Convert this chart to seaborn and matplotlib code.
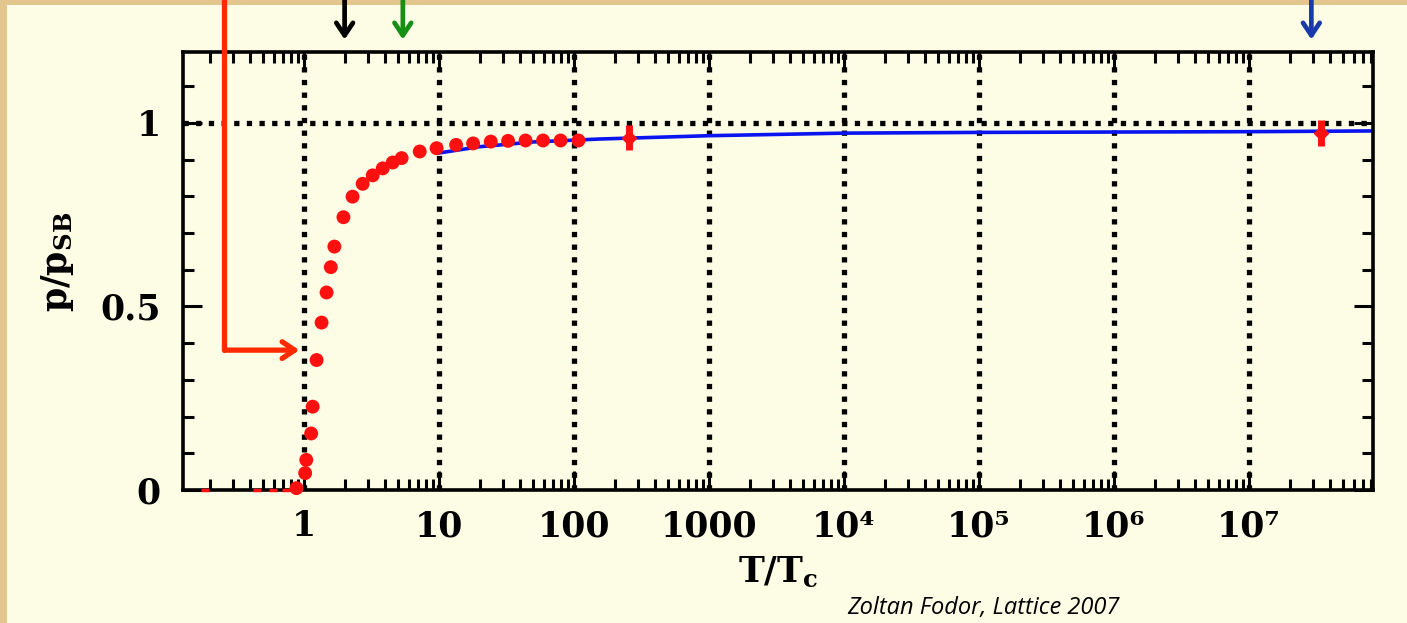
import matplotlib
matplotlib.use("Agg")
import matplotlib.pyplot as plt
import matplotlib.ticker as mticker
from matplotlib.patches import Rectangle
import numpy as np
import pandas as pd
import seaborn as sns

########################################
# Data

# lattice points p/p_SB versus T/T_c
lat_T = [0.88, 1.02, 1.04, 1.13, 1.16, 1.24, 1.35, 1.47,
         1.58, 1.68, 1.96, 2.29, 2.72, 3.23, 3.83, 4.54, 5.29, 7.2, 9.6, 13.4,
         17.9, 24.2, 32.5, 43.8, 59.0, 79.6, 108.0]
lat_p = [0.005, 0.046, 0.082, 0.154, 0.227, 0.354, 0.456, 0.538,
         0.607, 0.663, 0.743, 0.799, 0.834, 0.857, 0.876, 0.892, 0.904, 0.922, 0.931,
         0.940, 0.944, 0.949, 0.951, 0.952, 0.952, 0.952, 0.952]

# low temperature points (tiny marks on the axis)
low_T = [0.185, 0.45, 0.59, 0.74]
low_p = [0.0, 0.0, 0.0, 0.0]

# points with error bars
err_T = [256.0, 3.4e7]
err_p = [0.960, 0.972]
err_dp = [0.034, 0.036]

# perturbative curve
pert_T = [10, 20, 50, 155, 1000, 1e4, 1e5, 1e6, 1e7, 8.3e7]
pert_p = [0.918, 0.935, 0.948, 0.956, 0.965, 0.972, 0.974, 0.975, 0.976, 0.978]

# decade tick labels
dec_ticks = [1, 10, 100, 1000, 1e4, 1e5, 1e6, 1e7]
dec_labels = ["1", "10", "100", "1000", "10\u2074", "10\u2075", "10\u2076", "10\u2077"]

# arrows above the frame: (T position, colour)
top_arrows = [(2.0, "black"), (5.4, "#159015"), (2.9e7, "#1a3aa8")]

########################################

sns.set_style("ticks")
plt.rcParams["font.family"] = ["DejaVu Serif"]
plt.rcParams["mathtext.fontset"] = "dejavuserif"
plt.rcParams["text.color"] = "black"
plt.rcParams["axes.labelcolor"] = "black"

cream = "#fdfde6"
fig = plt.figure(figsize=(14.07, 6.23), dpi=100, facecolor="#e2c68e")
fig.patches.append(Rectangle((7 / 1407, 0), 1, 1 - 5 / 623, transform=fig.transFigure,
                             facecolor=cream, edgecolor="none", zorder=-10))
ax = fig.add_axes([183 / 1407, 133 / 623, 1190 / 1407, 438 / 623])
ax.set_facecolor(cream)

# grid (thick dotted lines)
dots = (0, (1.0, 1.4))
for t in dec_ticks:
    ax.axvline(t, color="black", lw=3.8, ls=dots, zorder=1)
ax.axhline(1.0, color="black", lw=3.8, ls=dots, zorder=1)

sns.lineplot(x=pert_T, y=pert_p, color="#0a14f0", lw=2.6, ax=ax, zorder=2)
df = pd.DataFrame({"T": lat_T, "p": lat_p})
sns.scatterplot(data=df, x="T", y="p", color="#ff1010", s=100, edgecolor="none",
                ax=ax, zorder=3, clip_on=False)
sns.scatterplot(x=low_T, y=low_p, color="#ff1010", marker="_", s=30, linewidth=2.5,
                ax=ax, zorder=3, clip_on=False)
ax.errorbar(err_T, err_p, yerr=err_dp, fmt="D", color="#ff1010", ms=7, elinewidth=5,
            capsize=0, zorder=3)

ax.set_xscale("log")
ax.set_xlim(0.127, 8.3e7)
ax.set_ylim(0, 1.193)
ax.set_xticks(dec_ticks)
ax.set_xticklabels(dec_labels)
ax.xaxis.set_minor_locator(mticker.LogLocator(base=10, subs=np.arange(2, 10), numticks=30))
ax.xaxis.set_minor_formatter(mticker.NullFormatter())
ax.set_yticks([0, 0.5, 1])
ax.set_yticklabels(["0", "0.5", "1"])
ax.yaxis.set_minor_locator(mticker.MultipleLocator(0.1))

ax.tick_params(which="both", direction="in", top=True, right=True, width=2.2, colors="black")
ax.tick_params(which="major", length=14)
ax.tick_params(which="minor", length=8)
ax.tick_params(axis="x", which="major", pad=14, labelsize=25)
ax.tick_params(axis="y", which="major", pad=16, labelsize=25)
for lab in ax.get_xticklabels() + ax.get_yticklabels():
    lab.set_fontweight("bold")
for sp in ax.spines.values():
    sp.set_linewidth(2.6)
    sp.set_color("black")

ax.set_xlabel(r"T/T$_\mathbf{c}$", fontsize=25, fontweight="bold", labelpad=8)
ax.set_ylabel(r"p/p$_\mathbf{SB}$", fontsize=25, fontweight="bold", labelpad=12)
ax.yaxis.set_label_coords(-0.09, 0.52)

# arrows in the margin above the frame
trans = ax.get_xaxis_transform()
head = "->,head_length=0.9,head_width=0.6"
for t, c in top_arrows:
    ax.annotate("", xy=(t, 1.022), xytext=(t, 1.125), xycoords=trans, textcoords=trans,
                arrowprops=dict(arrowstyle=head, color=c, lw=3.4), annotation_clip=False)

# red bent arrow pointing at T_c
ax.plot([0.255, 0.255], [1.34, 0.381], color="#ff2a00", lw=3.8, clip_on=False, zorder=4)
ax.annotate("", xy=(0.97, 0.381), xytext=(0.252, 0.381), xycoords="data",
            arrowprops=dict(arrowstyle=head, color="#ff2a00", lw=3.8),
            annotation_clip=False, zorder=4)

fig.text(847 / 1407, 1 - 608 / 623, "Zoltan Fodor, Lattice 2007", fontsize=17,
         style="italic", family=["Open Sans", "DejaVu Sans"], color="black",
         va="center", ha="left")

fig.savefig("out.png", dpi=100, facecolor=fig.get_facecolor())
